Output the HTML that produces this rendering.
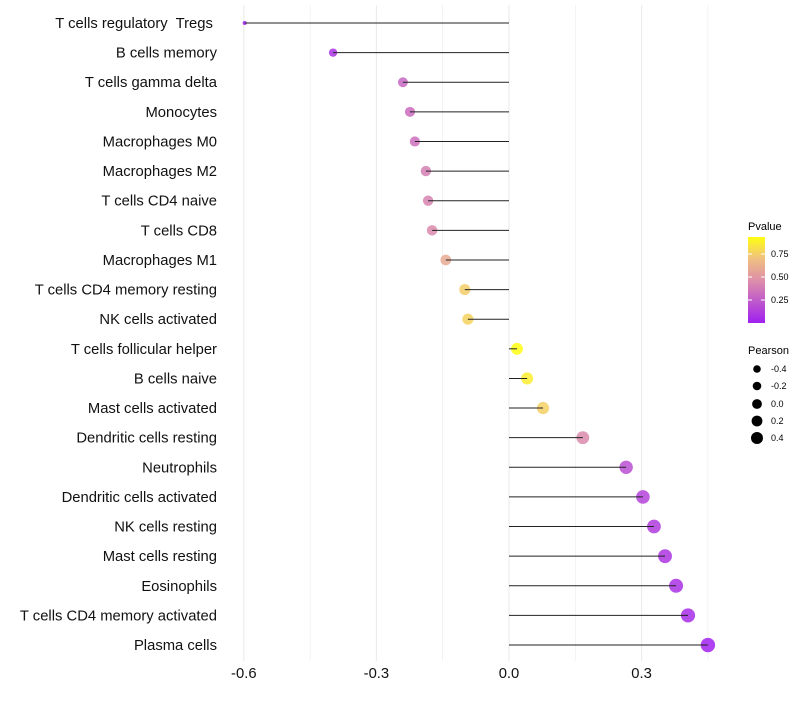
<!DOCTYPE html>
<html><head><meta charset="utf-8"><style>
body{margin:0;background:#fff;font-family:"Liberation Sans",sans-serif}
text{white-space:pre}
</style></head><body>
<svg id="chart" width="800" height="700" xmlns="http://www.w3.org/2000/svg">
<defs><linearGradient id="pg" x1="0" y1="1" x2="0" y2="0">
<stop offset="0" stop-color="#A020F0"/><stop offset="0.5" stop-color="#DE90A8"/><stop offset="0.75" stop-color="#F0C080"/><stop offset="1" stop-color="#FFFF10"/></linearGradient></defs>
<g id="grid"></g><g id="marks"></g><g id="labels"></g>
<g>
<text x="748" y="230" font-size="11">Pvalue</text>
<rect x="748" y="237" width="17" height="86" fill="url(#pg)"/>
<line x1="748" y1="254" x2="752" y2="254" stroke="#fff"/><line x1="761" y1="254" x2="765" y2="254" stroke="#fff"/>
<line x1="748" y1="277" x2="752" y2="277" stroke="#fff"/><line x1="761" y1="277" x2="765" y2="277" stroke="#fff"/>
<line x1="748" y1="300" x2="752" y2="300" stroke="#fff"/><line x1="761" y1="300" x2="765" y2="300" stroke="#fff"/>
<text x="771" y="257" font-size="9">0.75</text><text x="771" y="280" font-size="9">0.50</text><text x="771" y="303" font-size="9">0.25</text>
</g>
<g>
<text x="748" y="354" font-size="11">Pearson</text>
<circle cx="757" cy="369" r="3.8"/><text x="771" y="372" font-size="9">-0.4</text>
<circle cx="757" cy="386" r="4.3"/><text x="771" y="389" font-size="9">-0.2</text>
<circle cx="757" cy="404" r="4.9"/><text x="771" y="407" font-size="9">0.0</text>
<circle cx="757" cy="421" r="5.4"/><text x="771" y="424" font-size="9">0.2</text>
<circle cx="757" cy="438" r="6"/><text x="771" y="441" font-size="9">0.4</text>
</g>
</svg>
<script>
const categories=["T cells regulatory  Tregs ","B cells memory","T cells gamma delta","Monocytes","Macrophages M0","Macrophages M2","T cells CD4 naive","T cells CD8","Macrophages M1","T cells CD4 memory resting","NK cells activated","T cells follicular helper","B cells naive","Mast cells activated","Dendritic cells resting","Neutrophils","Dendritic cells activated","NK cells resting","Mast cells resting","Eosinophils","T cells CD4 memory activated","Plasma cells"];
const pearson=[-0.598,-0.398,-0.24,-0.224,-0.213,-0.188,-0.183,-0.174,-0.143,-0.1,-0.093,0.018,0.041,0.077,0.167,0.265,0.303,0.328,0.353,0.378,0.405,0.45];
const pvalues=[0.01,0.08,0.3,0.32,0.34,0.4,0.42,0.45,0.6,0.76,0.78,0.95,0.88,0.77,0.45,0.2,0.15,0.12,0.09,0.07,0.05,0.01];
const xTicks=[-0.6,-0.3,0.0,0.3];
const xTickLabels=["-0.6","-0.3","0.0","0.3"];
const NS="http://www.w3.org/2000/svg";
const x=v=>509+v*442;
const y=i=>23+i*29.62;
const r=v=>1.8+5.4*Math.sqrt(Math.max(0,(v+0.6)/1.05));
function lerp(a,b,t){return Math.round(a+(b-a)*t);}
const stops=[[0,[160,32,240]],[0.475,[222,144,168]],[0.71,[240,192,128]],[0.95,[255,255,16]]];
function col(p){p=Math.max(0,Math.min(0.95,p));for(let k=1;k<stops.length;k++){if(p<=stops[k][0]){const a=stops[k-1],b=stops[k],t=(p-a[0])/(b[0]-a[0]);return `rgb(${lerp(a[1][0],b[1][0],t)},${lerp(a[1][1],b[1][1],t)},${lerp(a[1][2],b[1][2],t)})`;}}return "rgb(255,255,16)";}
function mk(t,attrs,parent){const e=document.createElementNS(NS,t);for(const k in attrs)e.setAttribute(k,attrs[k]);parent.appendChild(e);return e;}
const grid=document.getElementById('grid'),marks=document.getElementById('marks'),labels=document.getElementById('labels');
[-0.6,-0.45,-0.3,-0.15,0,0.15,0.3,0.45].forEach((v,i)=>{const l=mk('line',{x1:x(v),x2:x(v),y1:5,y2:661,stroke:'#ebebeb','stroke-width':i%2===0?1.1:0.6},grid);

});
xTicks.forEach((v,i)=>{const t=mk('text',{x:x(v),y:678,'font-size':14.8,'text-anchor':'middle',fill:'#111'},labels);t.textContent=xTickLabels[i];

});
categories.forEach((c,i)=>{
const t=mk('text',{x:217,y:y(i)+5,'font-size':14.8,'text-anchor':'end',fill:'#111'},labels);t.textContent=c;


const d=mk('circle',{cx:x(pearson[i]),cy:y(i),r:r(pearson[i]),fill:col(pvalues[i]),'fill-opacity':0.85},marks);


const l=mk('line',{x1:x(pearson[i]),x2:x(0),y1:y(i),y2:y(i),stroke:'#222','stroke-width':1},marks);


});
</script>
</body></html>
